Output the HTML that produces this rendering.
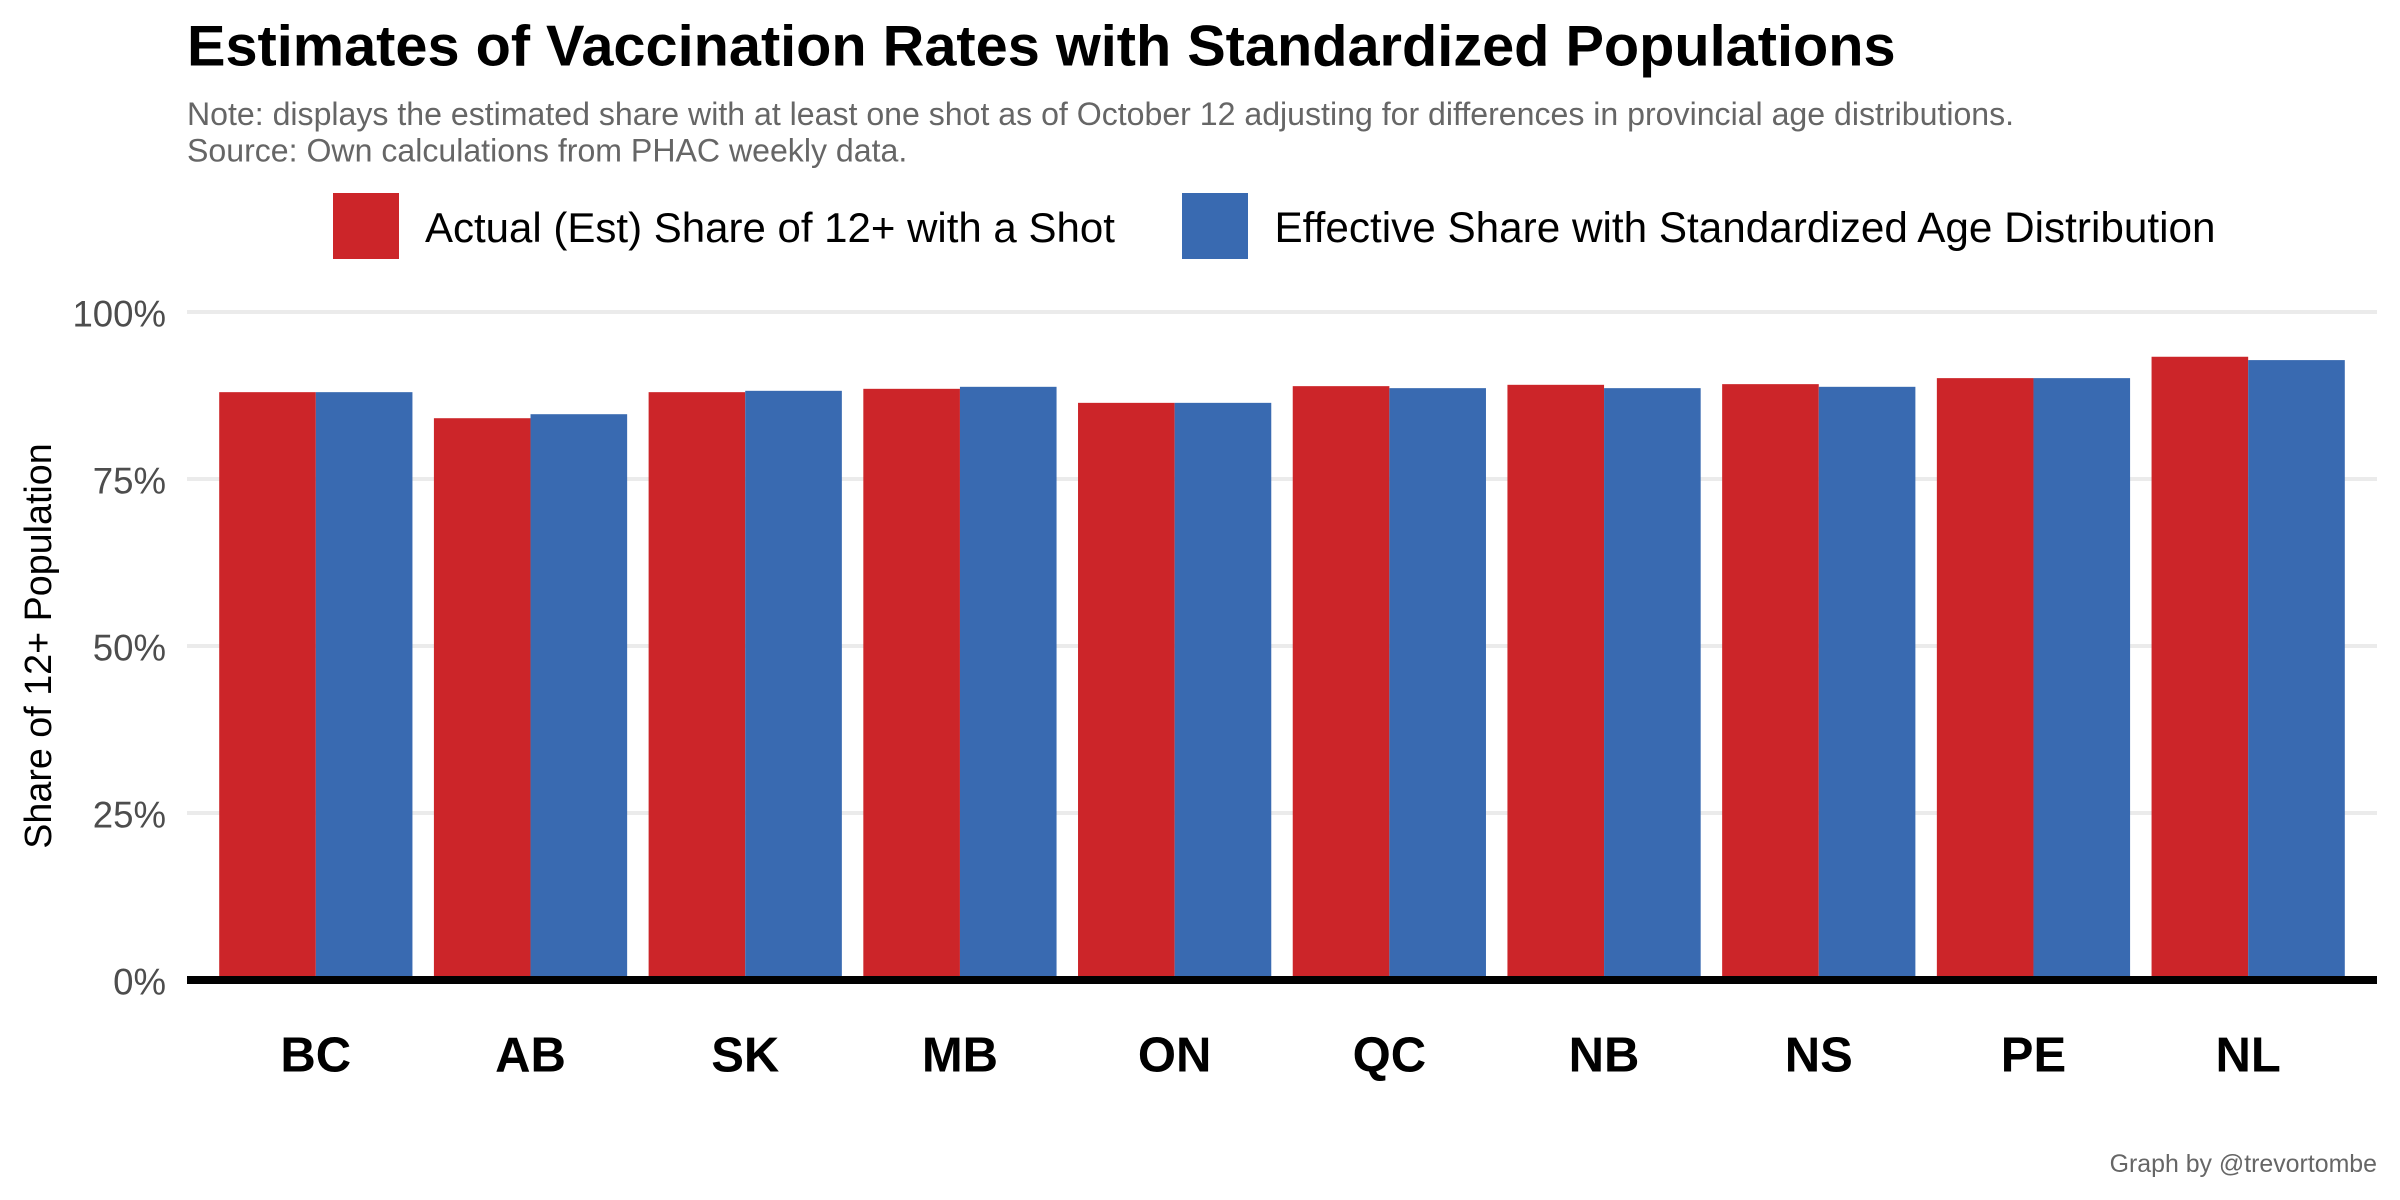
<!DOCTYPE html>
<html lang="en">
<head>
<meta charset="utf-8">
<title>Estimates of Vaccination Rates with Standardized Populations</title>
<style>
html,body{margin:0;padding:0;background:#fff;width:2400px;height:1200px;overflow:hidden}
svg{display:block}
text{font-family:"Liberation Sans",Arial,sans-serif}
</style>
</head>
<body>
<svg id="chart" xmlns="http://www.w3.org/2000/svg" width="2400" height="1200" viewBox="0 0 2400 1200">
  <rect x="0" y="0" width="2400" height="1200" fill="#ffffff"/>
  <text x="187" y="65.5" font-size="57.7" font-weight="700" fill="#000000">Estimates of Vaccination Rates with Standardized Populations</text>
  <text x="187" y="125" font-size="32.1" fill="#666666">Note: displays the estimated share with at least one shot as of October 12 adjusting for differences in provincial age distributions.</text>
  <text x="187" y="161.5" font-size="32.1" fill="#666666">Source: Own calculations from PHAC weekly data.</text>
  <g>
    <rect x="333" y="193" width="66" height="66" fill="#CC2529"/>
    <text x="425" y="242" font-size="42" fill="#000000">Actual (Est) Share of 12+ with a Shot</text>
    <rect x="1182" y="193" width="66" height="66" fill="#396AB1"/>
    <text x="1274.5" y="242" font-size="42.25" fill="#000000">Effective Share with Standardized Age Distribution</text>
  </g>
  <g id="grid"></g>
  <g id="yticks"></g>
  <g id="bars"></g>
  <g id="xticks"></g>
  <text transform="translate(51,646) rotate(-90)" text-anchor="middle" font-size="37.7" fill="#000000">Share of 12+ Population</text>
  <text x="2377" y="1172" text-anchor="end" font-size="24.9" fill="#666666">Graph by @trevortombe</text>
</svg>
<script>
const categories = ["BC","AB","SK","MB","ON","QC","NB","NS","PE","NL"];
const actualShare = [88.0,84.1,88.0,88.5,86.4,88.9,89.1,89.2,90.1,93.3];
const effectiveShare = [88.0,84.7,88.2,88.8,86.4,88.6,88.6,88.8,90.1,92.8];
const yTickValues = [0,25,50,75,100];
const yTickLabels = ["0%","25%","50%","75%","100%"];

const SVG_NS = "http://www.w3.org/2000/svg";
const plotLeft = 187, plotRight = 2377, yZero = 980, yHundred = 312;
const unit = (plotRight - plotLeft) / (categories.length - 1 + 1.2);
function xScale(i){ return plotLeft + (0.6 + i) * unit; }
function yScale(v){ return yZero + (yHundred - yZero) * v / 100; }
function make(tag, attrs, parent){
  const el = document.createElementNS(SVG_NS, tag);
  for (const k in attrs) el.setAttribute(k, attrs[k]);
  parent.appendChild(el);
  return el;
}
const gridG = document.getElementById("grid");
const ytG = document.getElementById("yticks");
const barsG = document.getElementById("bars");
const xtG = document.getElementById("xticks");

yTickValues.forEach(function(v, i){
  if (v !== 0) {
    const line = make("line", {x1: plotLeft, x2: plotRight, y1: yScale(v), y2: yScale(v), stroke: "#ebebeb", "stroke-width": 4}, gridG);
    
    
  }
  const t = make("text", {x: 166, y: yScale(v) + 14.5, "text-anchor": "end", "font-size": 36.6, fill: "#4d4d4d"}, ytG);
  t.textContent = yTickLabels[i];
  
  
});

const halfWidth = 0.45 * unit;
categories.forEach(function(c, i){
  const cx = xScale(i);
  const r = make("rect", {x: cx - halfWidth, y: yScale(actualShare[i]), width: halfWidth, height: yZero - yScale(actualShare[i]), fill: "#CC2529"}, barsG);
  
  
  const b = make("rect", {x: cx, y: yScale(effectiveShare[i]), width: halfWidth, height: yZero - yScale(effectiveShare[i]), fill: "#396AB1"}, barsG);
  
  
  const t = make("text", {x: cx, y: 1071.5, "text-anchor": "middle", "font-size": 49, "font-weight": 700, fill: "#000000"}, xtG);
  t.textContent = c;
  
  
});

const axisLine = make("line", {x1: plotLeft, x2: plotRight, y1: yZero, y2: yZero, stroke: "#000000", "stroke-width": 8}, barsG);


</script>
</body>
</html>
